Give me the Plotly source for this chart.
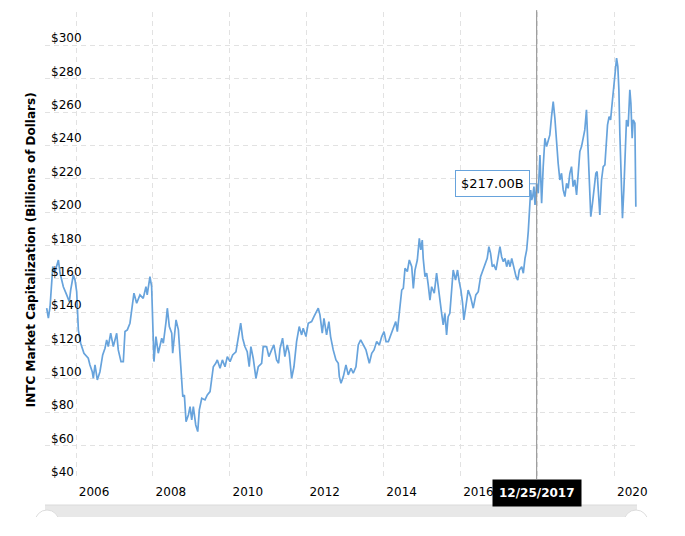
import plotly.graph_objects as go

# ---- data ----
dates = [
    "2005-03-28", "2005-04-13", "2005-04-29", "2005-05-25", "2005-06-16", "2005-07-17", "2005-08-02",
    "2005-09-02", "2005-10-04", "2005-10-29", "2005-11-11", "2005-12-06", "2005-12-22", "2006-01-07",
    "2006-01-23", "2006-02-14", "2006-03-17", "2006-04-27", "2006-05-13", "2006-06-04", "2006-06-14",
    "2006-06-30", "2006-07-22", "2006-08-16", "2006-09-11", "2006-10-03", "2006-10-19", "2006-11-03",
    "2006-11-26", "2006-12-21", "2007-01-22", "2007-02-06", "2007-03-04", "2007-03-26", "2007-04-11",
    "2007-05-03", "2007-05-28", "2007-06-13", "2007-07-05", "2007-07-31", "2007-08-31", "2007-10-01",
    "2007-10-27", "2007-11-08", "2007-12-04", "2007-12-20", "2007-12-30", "2008-01-11", "2008-01-30",
    "2008-02-21", "2008-03-25", "2008-04-09", "2008-05-05", "2008-05-17", "2008-06-05", "2008-06-28",
    "2008-07-07", "2008-07-20", "2008-08-08", "2008-08-30", "2008-09-22", "2008-10-11", "2008-10-26",
    "2008-11-11", "2008-12-03", "2008-12-19", "2009-01-04", "2009-01-19", "2009-02-11", "2009-03-02",
    "2009-03-17", "2009-04-09", "2009-05-10", "2009-06-01", "2009-06-27", "2009-07-13", "2009-07-28",
    "2009-08-20", "2009-09-04", "2009-09-30", "2009-10-22", "2009-11-16", "2009-12-08", "2010-01-03",
    "2010-01-28", "2010-02-28", "2010-03-22", "2010-04-14", "2010-05-03", "2010-05-24", "2010-06-15",
    "2010-07-04", "2010-07-20", "2010-08-11", "2010-09-06", "2010-09-28", "2010-10-30", "2010-11-14",
    "2010-12-16", "2011-01-07", "2011-02-02", "2011-02-23", "2011-03-21", "2011-04-09", "2011-04-22",
    "2011-05-17", "2011-06-08", "2011-06-30", "2011-07-19", "2011-08-11", "2011-09-02", "2011-09-27",
    "2011-10-22", "2011-11-14", "2011-11-29", "2011-12-25", "2012-01-16", "2012-02-17", "2012-03-10",
    "2012-04-04", "2012-04-20", "2012-05-06", "2012-05-28", "2012-06-13", "2012-07-08", "2012-07-30",
    "2012-08-15", "2012-09-09", "2012-10-05", "2012-10-27", "2012-11-06", "2012-11-22", "2012-12-14",
    "2013-01-08", "2013-01-30", "2013-02-25", "2013-03-18", "2013-04-13", "2013-05-05", "2013-05-28",
    "2013-06-22", "2013-07-17", "2013-08-18", "2013-09-10", "2013-10-02", "2013-10-27", "2013-11-21",
    "2013-12-14", "2014-01-05", "2014-01-24", "2014-02-15", "2014-03-10", "2014-04-03", "2014-04-26",
    "2014-05-11", "2014-06-06", "2014-06-22", "2014-07-07", "2014-07-23", "2014-08-14", "2014-09-02",
    "2014-09-25", "2014-10-10", "2014-10-26", "2014-11-17", "2014-12-06", "2014-12-20", "2015-01-03",
    "2015-01-12", "2015-01-29", "2015-02-14", "2015-03-01", "2015-03-17", "2015-04-02", "2015-04-27",
    "2015-05-19", "2015-06-04", "2015-06-20", "2015-07-06", "2015-07-21", "2015-08-06", "2015-08-22",
    "2015-09-06", "2015-09-22", "2015-10-08", "2015-10-24", "2015-11-15", "2015-12-04", "2015-12-20",
    "2016-01-05", "2016-01-21", "2016-02-02", "2016-02-21", "2016-03-14", "2016-04-06", "2016-05-01",
    "2016-05-26", "2016-06-18", "2016-07-10", "2016-08-04", "2016-08-27", "2016-09-11", "2016-09-27",
    "2016-10-13", "2016-10-29", "2016-11-14", "2016-12-03", "2016-12-25", "2017-01-10", "2017-01-26",
    "2017-02-11", "2017-02-27", "2017-03-15", "2017-03-31", "2017-04-16", "2017-05-02", "2017-05-17",
    "2017-06-12", "2017-06-28", "2017-07-13", "2017-08-05", "2017-08-20", "2017-09-05", "2017-09-21",
    "2017-10-06", "2017-10-22", "2017-10-29", "2017-11-07", "2017-11-17", "2017-11-29", "2017-12-09",
    "2017-12-25", "2018-01-09", "2018-01-25", "2018-02-10", "2018-02-25", "2018-03-13", "2018-03-29",
    "2018-04-13", "2018-04-29", "2018-05-15", "2018-05-31", "2018-06-16", "2018-07-02", "2018-07-17",
    "2018-08-02", "2018-08-18", "2018-09-03", "2018-09-19", "2018-10-05", "2018-10-20", "2018-11-05",
    "2018-11-21", "2018-12-06", "2018-12-22", "2019-01-08", "2019-01-23", "2019-02-08", "2019-02-24",
    "2019-03-11", "2019-03-27", "2019-04-12", "2019-04-22", "2019-05-04", "2019-05-14", "2019-05-23",
    "2019-06-08", "2019-06-24", "2019-07-10", "2019-07-22", "2019-08-04", "2019-08-17", "2019-09-02",
    "2019-09-18", "2019-10-04", "2019-10-20", "2019-10-29", "2019-11-13", "2019-11-27", "2019-12-12",
    "2019-12-28", "2020-01-13", "2020-01-23", "2020-02-04", "2020-02-14", "2020-02-23", "2020-03-10",
    "2020-03-19", "2020-04-01", "2020-04-13", "2020-04-26", "2020-05-12", "2020-05-28", "2020-06-07",
    "2020-06-19", "2020-06-29", "2020-07-15", "2020-07-24",
]

market_cap_billions = [
    142.4, 136.5, 143.3, 167.3, 164.4, 171.3, 163.5,
    155.3, 150.4, 146.3, 153.3, 162.3, 159.3, 152.3,
    129.3, 121.4, 115.4, 112.4, 108.4, 104.3, 100.4,
    108.4, 99.4, 104.3, 114.4, 118.4, 123.4, 119.4,
    127.4, 119.4, 127.4, 117.4, 110.4, 110.4, 128.4,
    129.4, 133.4, 140.4, 151.4, 145.4, 150.4, 148.3,
    155.3, 150.4, 161.3, 155.3, 133.4, 110.4, 125.4,
    115.4, 124.4, 121.4, 134.4, 142.4, 131.4, 127.4,
    115.4, 123.4, 135.4, 129.4, 107.3, 89.3, 90.4,
    74.4, 78.4, 83.4, 75.4, 83.4, 72.4, 68.4,
    81.4, 88.4, 87.4, 90.4, 92.4, 99.4, 107.3,
    109.4, 111.4, 106.4, 111.4, 107.3, 113.4, 110.4,
    114.4, 116.3, 124.4, 133.4, 124.4, 119.4, 116.3,
    107.3, 119.4, 112.4, 100.4, 107.3, 109.4, 119.4,
    119.4, 113.4, 117.4, 120.4, 111.4, 109.4, 118.0,
    124.4, 113.4, 120.4, 115.4, 100.4, 107.3, 122.4,
    131.4, 126.4, 130.4, 125.4, 133.4, 134.4, 137.3,
    140.4, 142.4, 138.4, 127.4, 136.3, 126.4, 134.4,
    125.4, 117.4, 111.4, 109.4, 101.4, 97.4, 101.4,
    108.4, 102.4, 106.4, 103.4, 107.3, 120.4, 123.4,
    120.4, 117.4, 109.4, 115.4, 117.4, 122.4, 120.4,
    125.4, 128.4, 122.4, 122.4, 126.4, 131.4, 134.4,
    128.4, 145.4, 153.3, 154.3, 166.3, 164.4, 171.3,
    167.3, 154.3, 165.3, 171.3, 184.3, 177.3, 183.3,
    172.3, 161.3, 163.4, 156.3, 147.3, 155.3, 151.4,
    163.4, 154.3, 146.3, 139.3, 132.4, 139.3, 126.4,
    137.3, 139.3, 153.3, 165.3, 159.3, 165.3, 158.3,
    153.3, 145.4, 135.4, 143.3, 153.3, 149.3, 142.4,
    150.4, 152.3, 161.3, 165.3, 169.3, 172.3, 179.3,
    175.3, 167.3, 168.3, 165.3, 174.3, 179.3, 173.3,
    170.3, 172.3, 167.3, 171.3, 167.3, 172.3, 168.3,
    161.3, 159.3, 165.3, 167.3, 163.4, 172.3, 177.3,
    188.3, 205.3, 213.3, 207.3, 209.3, 215.3, 204.3,
    217.0, 211.3, 234.3, 205.3, 227.3, 244.3, 239.3,
    243.3, 246.3, 257.3, 266.3, 256.3, 239.3, 229.3,
    219.3, 223.3, 213.3, 209.3, 217.3, 214.3, 223.3,
    227.3, 215.3, 219.3, 210.3, 221.3, 236.3, 239.3,
    244.3, 249.3, 261.3, 245.3, 223.3, 207.3, 197.3,
    205.3, 215.3, 223.3, 224.3, 209.3, 198.3, 219.3,
    227.3, 228.3, 242.3, 252.3, 257.3, 255.3, 265.3,
    275.3, 283.3, 292.3, 287.3, 273.3, 247.3, 215.3,
    196.3, 213.3, 241.3, 255.3, 251.3, 273.3, 265.3,
    244.3, 255.3, 253.3, 203.3,
]

year_ticks = ["2006-01-01", "2008-01-01", "2010-01-01", "2012-01-01",
              "2014-01-01", "2016-01-01", "2018-01-01", "2020-01-01"]
# the 2018 label sits entirely under the hovered-date box in the reference
year_labels = ["2006", "2008", "2010", "2012", "2014", "2016", "", "2020"]

y_ticks = [40, 60, 80, 100, 120, 140, 160, 180, 200, 220, 240, 260, 280, 300, 320]
y_label_values = [40, 60, 80, 100, 120, 140, 160, 180, 200, 220, 240, 260, 280, 300]
y_labels = ["$40", "$60", "$80", "$100", "$120", "$140", "$160", "$180", "$200",
            "$220", "$240", "$260", "$280", "$300"]

hover_date = "2017-12-25"
hover_date_label = "12/25/2017"
hover_value = 217.00
hover_value_label = "$217.00B"

y_title = "INTC Market Capitalization (Billions of Dollars)"

# ---- styling ----
LINE_COLOR = "#67a3dc"
GRID_COLOR = "#e2e2e2"
FONT = "DejaVu Sans, Verdana, sans-serif"

fig = go.Figure()
fig.add_trace(go.Scatter(
    x=dates, y=market_cap_billions, mode="lines",
    line=dict(color=LINE_COLOR, width=1.7),
    hoverinfo="skip",
))

# the page body adds an 8px margin around the figure
fig.update_layout(
    width=669, height=520,
    margin=dict(l=37, r=40, t=4, b=49, autoexpand=False),
    paper_bgcolor="white", plot_bgcolor="white",
    showlegend=False,
    font=dict(family=FONT, size=12, color="#000"),
    hovermode=False,
)

fig.update_xaxes(
    type="date", range=["2005-03-12", "2020-08-04"],
    tickvals=year_ticks, ticktext=year_labels,
    showgrid=True, gridcolor=GRID_COLOR, gridwidth=1, griddash="5px,4px",
    zeroline=False, showline=False, ticks="", automargin=False,
    ticklabelshift=18, ticklabelstandoff=4, ticklabeloverflow="allow",
    tickfont=dict(family=FONT, size=12, color="#000"),
)

fig.update_yaxes(
    range=[40, 320],
    tickvals=y_ticks, showticklabels=False,
    showgrid=True, gridcolor=GRID_COLOR, gridwidth=1, griddash="5px,4px",
    zeroline=False, showline=False, ticks="", automargin=False,
)

# y tick labels, sitting inside the plot just above their grid lines
for val, lab in zip(y_label_values, y_labels):
    fig.add_annotation(
        xref="paper", yref="y", x=0, y=val, xanchor="left", yanchor="middle",
        xshift=4, yshift=7, text=lab, showarrow=False,
        font=dict(family=FONT, size=12, color="#000"),
    )

# y axis title
fig.add_annotation(
    xref="paper", yref="paper", x=-0.0236, y=0.49,
    xanchor="center", yanchor="middle",
    text="<b>" + y_title + "</b>", textangle=-90, showarrow=False,
    font=dict(family=FONT, size=12, color="#000"),
)

# crosshair
fig.add_shape(type="line", xref="x", yref="paper",
              x0=hover_date, x1=hover_date, y0=0, y1=1.004,
              line=dict(color="#8c8c8c", width=1), layer="above")

# value tooltip
fig.add_annotation(
    x=hover_date, y=hover_value, xref="x", yref="y",
    text=hover_value_label, showarrow=True, ax=-44, ay=0,
    arrowhead=0, arrowwidth=1, arrowcolor=LINE_COLOR, standoff=0,
    bgcolor="white", bordercolor=LINE_COLOR, borderwidth=1, borderpad=5,
    font=dict(family=FONT, size=13, color="#000"),
)

# date label box
fig.add_annotation(
    x=hover_date, xref="x", yref="paper", y=0, yanchor="top",
    text="<b>" + hover_date_label + "</b>", showarrow=False,
    bgcolor="black", borderpad=6,
    font=dict(family=FONT, size=12, color="white"),
)

# scrollbar strip under the axis
fig.add_shape(type="rect", xref="paper", yref="paper",
              x0=0, x1=1, y0=-0.0814, y1=-0.0557,
              fillcolor="#e8e8e8", line=dict(width=0), layer="below")
fig.add_shape(type="line", xref="paper", yref="paper",
              x0=0, x1=1, y0=-0.0557, y1=-0.0557,
              line=dict(color="#dadada", width=1))
for cx in (0.0034, 0.9983):
    fig.add_shape(type="circle", xref="paper", yref="paper",
                  x0=cx - 0.0203, x1=cx + 0.0203, y0=-0.1178, y1=-0.0664,
                  fillcolor="white", line=dict(color="#dddddd", width=1))
fig.add_shape(type="rect", xref="paper", yref="paper",
              x0=-0.1, x1=1.1, y0=-0.13, y1=-0.0814,
              fillcolor="white", line=dict(width=0))

fig.write_html("out.html")
